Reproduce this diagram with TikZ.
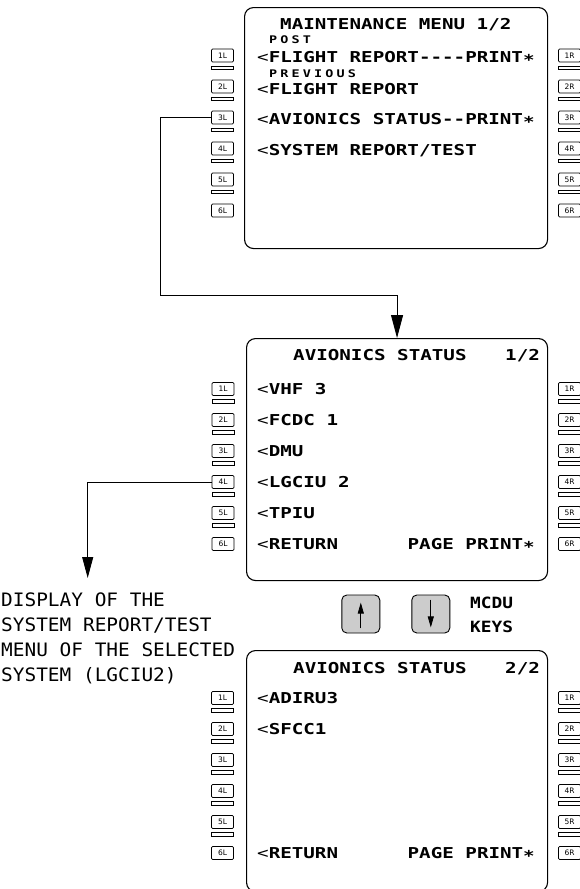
\documentclass[tikz,border=0pt]{standalone}
\usepackage{fontspec}
\usetikzlibrary{arrows.meta,calc}
\newfontfamily\cdufont[FakeStretch=1.28]{DejaVu Sans Mono}
\newfontfamily\cdusmallfont[FakeStretch=1.28,LetterSpace=30]{DejaVu Sans Mono}
\newfontfamily\labfont[FakeStretch=1.05]{DejaVu Sans Mono}
\newfontfamily\keyfont[FakeStretch=1.15]{DejaVu Sans Mono}
\newfontfamily\btnfont{DejaVu Sans}
\newcommand\cdustar{\raisebox{-3pt}{*}}
\newcommand\cdult{{\mdseries<}}
\newcommand\mkkeys[4]{%
  \foreach \i in {1,...,6}{\node[lsk] (#1\i) at (#2,{#3+31*(\i-1)}) {\i#4};}
  \foreach \i in {1,...,5}{\node[lskbar] at (#2,{#3+31*(\i-1)+12.5}) {};}
}
\begin{document}
\begin{tikzpicture}[x=1pt,y=-1pt,
  screen/.style={draw, line width=1.1pt, rounded corners=9pt, inner sep=0pt, anchor=north west},
  lsk/.style={draw, line width=0.7pt, rounded corners=1.2pt, minimum width=22pt, minimum height=13pt, inner sep=0pt, font=\btnfont\fontsize{7.5}{8}\selectfont},
  lskbar/.style={draw, line width=0.7pt, minimum width=22pt, minimum height=3.5pt, inner sep=0pt},
  cdu/.style={inner sep=0pt, anchor=base west, font=\cdufont\bfseries\fontsize{15}{18}\selectfont},
  cdur/.style={cdu, anchor=base east},
  cdusmall/.style={inner sep=0pt, anchor=base west, font=\cdusmallfont\bfseries\fontsize{10.5}{12}\selectfont},
  lab/.style={inner sep=0pt, anchor=base west, font=\labfont\fontsize{18.5}{22}\selectfont},
  keylab/.style={inner sep=0pt, anchor=base west, font=\keyfont\bfseries\fontsize{15.5}{18}\selectfont},
  conn/.style={line width=0.9pt},
  mkey/.style={draw, line width=0.9pt, rounded corners=5pt, minimum width=38pt, minimum height=38pt, fill=black!20, inner sep=0pt}]
\useasboundingbox (0,0) rectangle (580,889);

% ---------- top screen ----------
\node[screen, minimum width=303pt, minimum height=241pt] (s1) at (244,7) {};
\mkkeys{tL}{222.5}{55.5}{L}
\mkkeys{tR}{569.5}{55.5}{R}
\node[cdu] (t0) at (280,29.5) {MAINTENANCE MENU 1/2};
\node[cdusmall] (tpost) at (269,43) {POST};
\node[cdu] (t1) at (257,62.5) {\cdult FLIGHT REPORT----PRINT\cdustar};
\node[cdusmall] (tprev) at (269,77) {PREVIOUS};
\node[cdu] (t2) at (257,94) {\cdult FLIGHT REPORT};
\node[cdu] (t3) at (257,124) {\cdult AVIONICS STATUS--PRINT\cdustar};
\node[cdu] (t4) at (257,155) {\cdult SYSTEM REPORT/TEST};

% ---------- middle screen ----------
\node[screen, minimum width=301pt, minimum height=242pt] (s2) at (246,338) {};
\mkkeys{mL}{223}{389}{L}
\mkkeys{mR}{569.5}{389}{R}
\node[cdu] (m0) at (293,360.5) {AVIONICS STATUS};
\node[cdu] (m0b) at (505,360.5) {1/2};
\node[cdu] (m1) at (257,394.5) {\cdult VHF 3};
\node[cdu] (m2) at (257,425.5) {\cdult FCDC 1};
\node[cdu] (m3) at (257,456.5) {\cdult DMU};
\node[cdu] (m4) at (257,487.5) {\cdult LGCIU 2};
\node[cdu] (m5) at (257,518.5) {\cdult TPIU};
\node[cdu] (m6) at (257,549.5) {\cdult RETURN};
\node[cdur] (m6r) at (535,549.5) {PAGE PRINT\cdustar};

% ---------- bottom screen ----------
\node[screen, minimum width=301pt, minimum height=241pt] (s3) at (246,650) {};
\mkkeys{bL}{222.5}{698}{L}
\mkkeys{bR}{569.5}{698}{R}
\node[cdu] (b0) at (293,673) {AVIONICS STATUS};
\node[cdu] (b0b) at (505,673) {2/2};
\node[cdu] (b1) at (257,703.5) {\cdult ADIRU3};
\node[cdu] (b2) at (257,734.5) {\cdult SFCC1};
\node[cdu] (b6) at (257,858.5) {\cdult RETURN};
\node[cdur] (b6r) at (535,858.5) {PAGE PRINT\cdustar};

% ---------- connectors ----------
\coordinate (c1) at (160.7,295);
\draw[conn,-{Triangle[length=23pt,width=12pt]}] (tL3.west) -| (c1) -| (s2.north);
\coordinate (c2) at (87.7,578);
\draw[conn,-{Triangle[length=21pt,width=11pt]}] (mL4.west) -| (c2);

% ---------- left text ----------
\node[lab] (l1) at (1,606.5) {DISPLAY OF THE};
\node[lab] (l2) at (1,631.5) {SYSTEM REPORT/TEST};
\node[lab] (l3) at (1,656.5) {MENU OF THE SELECTED};
\node[lab] (l4) at (1,681.5) {SYSTEM (LGCIU2)};

% ---------- MCDU keys ----------
\node[mkey] (ku) at (360.8,614) {};
\node[mkey] (kd) at (430.8,614) {};
\draw[line width=0.8pt,-{Triangle[length=11pt,width=6pt]}] ($(ku.south)+(0,-5)$) -- ($(ku.north)+(0,8)$);
\draw[line width=0.8pt,-{Triangle[length=11pt,width=6pt]}] ($(kd.north)+(0,5)$) -- ($(kd.south)+(0,-6)$);
\node[keylab] (k1) at (470,608.5) {MCDU};
\node[keylab] (k2) at (470,632) {KEYS};
\end{tikzpicture}
\end{document}
